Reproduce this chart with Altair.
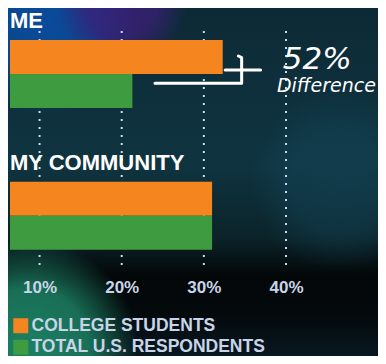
import altair as alt
import pandas as pd

# ---- data ----
groups = ["ME", "ME", "MY COMMUNITY", "MY COMMUNITY"]
series = ["COLLEGE STUDENTS", "TOTAL U.S. RESPONDENTS",
          "COLLEGE STUDENTS", "TOTAL U.S. RESPONDENTS"]
values = [32.3, 21.3, 31.0, 31.0]
group_titles = ["ME", "MY COMMUNITY"]
legend_labels = ["COLLEGE STUDENTS", "TOTAL U.S. RESPONDENTS"]
tick_values = [10, 20, 30, 40]

# annotation (x in %, y in bar-heights below the top of the ME bars)
bracket_x = [34.2, 34.6, 34.6, 24.05]
bracket_y = [0.47, 0.52, 1.27, 1.27]
stub_x = [32.6, 36.9]
stub_y = [0.88, 0.88]
note_text = ["52%", "Difference"]
note_x = [39.6, 38.9]
note_y = [0.84, 1.53]
note_size = [31, 19]

# ---- style ----
W, H = 368, 234
PAD = {"left": 2, "top": 23, "right": 0, "bottom": 91}
XMIN, XMAX = 6.4, 51.2
ORANGE, GREEN = "#f5851f", "#3f9b3f"
LIGHT = "#c8d5e8"
FONT = "Liberation Sans, Arial, sans-serif"
HAND = "DejaVu Sans"

one = pd.DataFrame({"k": [0]})
df = pd.DataFrame({"group": groups, "series": series, "value": values, "base": XMIN})
titles_df = pd.DataFrame({"group": group_titles})
ticks_df = pd.DataFrame({"tick": tick_values})
bracket_df = pd.DataFrame({"bx": bracket_x, "by": bracket_y, "order": list(range(len(bracket_x)))})
stub_df = pd.DataFrame({"sx": [stub_x[0]], "sx2": [stub_x[1]], "sy": [stub_y[0]]})
note_df = pd.DataFrame({"nx": note_x, "ny": note_y, "t": note_text, "size": note_size})

x_scale = alt.Scale(domain=[XMIN, XMAX], zero=False, nice=False)
group_scale = alt.Scale(domain=group_titles, paddingInner=0.52,
                        paddingOuter=0.0854, align=0.372)
ann_y = alt.Scale(domain=[-9 / 34, (H - 9) / 34], reverse=True, nice=False, zero=False)


def blob(cx, cy, r, rgb, alpha):
    return alt.Chart(one).mark_rect(
        fill=alt.RadialGradient(
            gradient="radial", x1=0.5, y1=0.5, x2=0.5, y2=0.5, r1=0, r2=0.5,
            stops=[
                alt.GradientStop(color=f"rgba({rgb},{alpha})", offset=0),
                alt.GradientStop(color=f"rgba({rgb},{alpha * 0.85})", offset=0.55),
                alt.GradientStop(color=f"rgba({rgb},0)", offset=1),
            ],
        )
    ).encode(x=alt.value(cx - r), x2=alt.value(cx + r), y=alt.value(cy - r), y2=alt.value(cy + r))


bg = alt.Chart(one).mark_rect(
    fill=alt.LinearGradient(
        gradient="linear", x1=0, x2=0, y1=0, y2=1,
        stops=[
            alt.GradientStop(color="#0c2a36", offset=0),
            alt.GradientStop(color="#0f3440", offset=0.45),
            alt.GradientStop(color="#0b2329", offset=0.66),
            alt.GradientStop(color="#030708", offset=0.77),
            alt.GradientStop(color="#04090c", offset=0.88),
            alt.GradientStop(color="#081820", offset=1),
        ],
    )
).encode(x=alt.value(-PAD["left"]), x2=alt.value(W + PAD["right"]),
         y=alt.value(-PAD["top"]), y2=alt.value(H + PAD["bottom"]))

blue = blob(35, -12, 95, "10,75,155", 1.0)
purple = blob(112, -28, 65, "60,30,120", 0.85)
teal = blob(330, 150, 90, "20,70,90", 0.5)
green = blob(18, 318, 110, "28,128,98", 1.0)

grid = alt.Chart(ticks_df).mark_rule(
    strokeDash=[2, 6], strokeWidth=2, color="#c9dcf0"
).encode(x=alt.X("tick:Q", scale=x_scale, title=None))

bars = alt.Chart(df).mark_bar().encode(
    x=alt.X("value:Q", scale=x_scale, title=None,
            axis=alt.Axis(values=tick_values, labelExpr="datum.value + '%'",
                          domain=False, ticks=False, tickSize=0, grid=False, zindex=1,
                          labelFont=FONT, labelFontSize=17, labelFontWeight="bold",
                          labelColor=LIGHT, labelBaseline="alphabetic", labelPadding=27)),
    x2="base:Q",
    y=alt.Y("group:N", scale=group_scale, axis=None),
    yOffset=alt.YOffset("series:N", scale=alt.Scale(domain=legend_labels,
                                                     paddingInner=0, paddingOuter=0)),
    color=alt.Color("series:N", scale=alt.Scale(domain=legend_labels, range=[ORANGE, GREEN]),
                    legend=alt.Legend(orient="none", legendX=2, legendY=286, title=None,
                                      symbolType="square", symbolSize=225,
                                      symbolStrokeWidth=0, symbolOpacity=1,
                                      labelFont=FONT, labelFontSize=17.5, labelFontWeight="bold",
                                      labelColor=LIGHT, labelOffset=2, rowPadding=2.5,
                                      padding=0, labelLimit=400, zindex=1)),
)

titles = alt.Chart(titles_df).mark_text(
    align="left", baseline="alphabetic", dy=-12, font=FONT, fontSize=22,
    fontWeight="bold", color="white"
).encode(x=alt.value(0), y=alt.Y("group:N", scale=group_scale, bandPosition=0, axis=None),
         text="group:N")

bracket = alt.Chart(bracket_df).mark_line(
    color="white", strokeWidth=3, strokeCap="round", strokeJoin="round"
).encode(x=alt.X("bx:Q", scale=x_scale, title=None),
         y=alt.Y("by:Q", scale=ann_y, axis=None), order="order:Q")

stub = alt.Chart(stub_df).mark_rule(color="white", strokeWidth=3, strokeCap="round").encode(
    x=alt.X("sx:Q", scale=x_scale, title=None), x2="sx2:Q",
    y=alt.Y("sy:Q", scale=ann_y, axis=None))

notes = alt.Chart(note_df).mark_text(
    align="left", baseline="alphabetic", font=HAND, fontStyle="italic", color="white"
).encode(x=alt.X("nx:Q", scale=x_scale, title=None),
         y=alt.Y("ny:Q", scale=ann_y, axis=None),
         text="t:N", size=alt.Size("size:Q", scale=None, legend=None))

chart = alt.layer(
    alt.layer(bg, blue, purple, teal, green, grid, bars, titles),
    alt.layer(bracket, stub, notes),
).resolve_scale(y="independent").properties(
    width=W, height=H,
    autosize=alt.AutoSizeParams(type="none"),
    padding=PAD,
).configure_view(stroke=None).configure(background="#0b2228")

chart.save("out.html", embed_options={"renderer": "svg", "actions": False})
